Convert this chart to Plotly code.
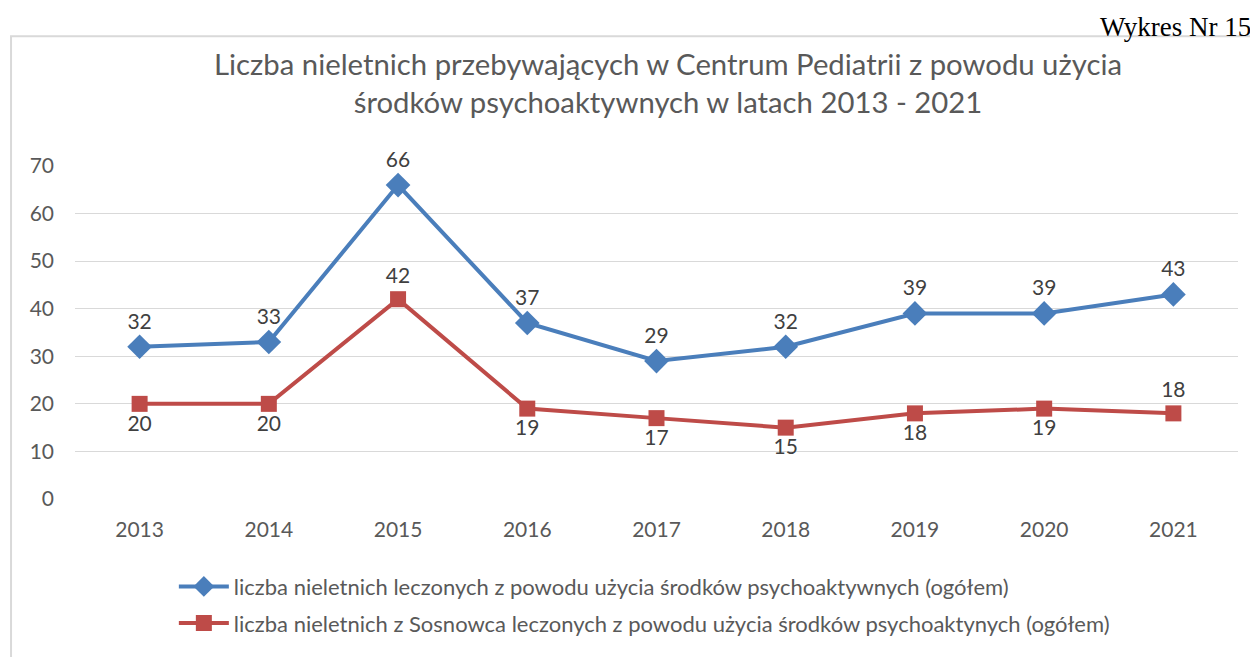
import plotly.graph_objects as go

# Dane do wykresu
lata = ['2013', '2014', '2015', '2016', '2017', '2018', '2019', '2020', '2021']
ogolem = [32, 33, 66, 37, 29, 32, 39, 39, 43]
sosnowiec = [20, 20, 42, 19, 17, 15, 18, 19, 18]
pozycje_sosnowiec = ['bottom center', 'bottom center', 'top center', 'bottom center',
                     'bottom center', 'bottom center', 'bottom center', 'bottom center', 'top center']

nazwa_ogolem = 'liczba nieletnich leczonych z powodu użycia środków psychoaktywnych (ogółem)'
nazwa_sosnowiec = 'liczba nieletnich z Sosnowca leczonych z powodu użycia środków psychoaktynych (ogółem)'

szary = '#595959'
czcionka = 'Lato, Open Sans, sans-serif'

fig = go.Figure()

fig.add_trace(go.Scatter(
    x=lata, y=ogolem, name=nazwa_ogolem, legendgroup='a',
    mode='lines+markers+text', text=[str(v) for v in ogolem],
    textposition='top center',
    textfont=dict(size=21, color='#404040', family=czcionka),
    line=dict(color='#4a7ebb', width=4),
    marker=dict(symbol='diamond', size=19, color='#4a7ebb'),
    cliponaxis=False
))

fig.add_trace(go.Scatter(
    x=lata, y=sosnowiec, name=nazwa_sosnowiec, legendgroup='b',
    mode='lines+markers+text', text=[str(v) for v in sosnowiec],
    textposition=pozycje_sosnowiec,
    textfont=dict(size=21, color='#404040', family=czcionka),
    line=dict(color='#be4b48', width=4),
    marker=dict(symbol='square', size=16, color='#be4b48'),
    cliponaxis=False
))

# strona ma 8 px marginesu, więc figura jest o 8 px mniejsza
fig.update_layout(
    width=1250, height=649,
    margin=dict(l=67, r=20, t=158, b=155),
    paper_bgcolor='white', plot_bgcolor='white',
    font=dict(family=czcionka, color=szary, size=21),
    title=dict(
        text='Liczba nieletnich przebywających w Centrum Pediatrii z powodu użycia<br>środków psychoaktywnych w latach 2013 - 2021',
        x=0.528, xanchor='center', y=0.897, yanchor='middle',
        font=dict(size=29.3, color=szary, family=czcionka)
    ),
    legend=dict(
        orientation='v', x=0.085, xanchor='left', y=-0.2, yanchor='top',
        font=dict(size=22, color=szary, family=czcionka),
        tracegroupgap=5, itemwidth=50
    ),
    showlegend=True
)

fig.update_xaxes(
    type='category', range=[-0.5, 8.5], showgrid=False, showline=False,
    ticks='', ticklabelstandoff=16, tickfont=dict(size=21, color=szary)
)
fig.update_yaxes(
    range=[0, 70], dtick=10, showgrid=True, gridcolor='#d9d9d9', gridwidth=1,
    zeroline=False, showline=False, ticks='', ticklabelstandoff=20,
    tickfont=dict(size=21, color=szary)
)

# Ramka wykresu i podpis
fig.add_shape(type='rect', xref='paper', yref='paper',
              x0=-0.055, x1=1.05, y0=-0.7, y1=1.39,
              line=dict(color='#d9d9d9', width=2), layer='below')
fig.add_annotation(text='Wykres Nr 15', xref='paper', yref='paper',
                   x=1.013, y=1.468, xanchor='right', yanchor='top', showarrow=False,
                   font=dict(family='Liberation Serif, Times New Roman, serif', size=27, color='black'))

fig.write_html("out.html")
